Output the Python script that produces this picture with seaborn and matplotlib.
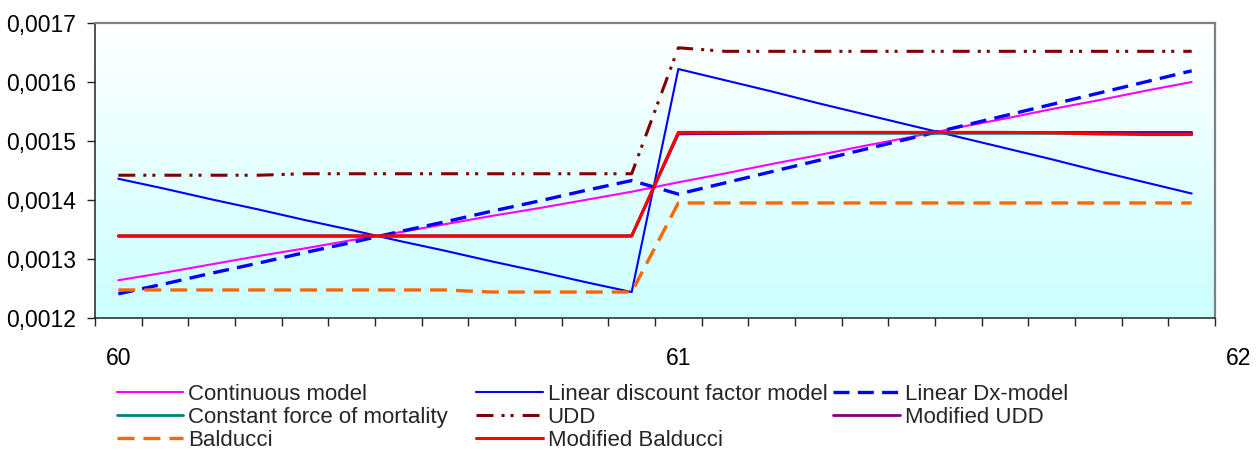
import numpy as np
import matplotlib
matplotlib.use("Agg")
import matplotlib.pyplot as plt
import seaborn as sns
from matplotlib.ticker import FixedLocator, FuncFormatter

# ---------------- data ----------------
months = list(range(24))            # month index within ages 60-61
series_names = [
    "Continuous model", "Linear discount factor model", "Linear Dx-model",
    "Constant force of mortality", "UDD", "Modified UDD",
    "Balducci", "Modified Balducci",
]
continuous = [0.001264, 0.001277, 0.001291, 0.001305, 0.001318, 0.001332,
              0.001345, 0.001359, 0.001373, 0.001386, 0.001400, 0.001414,
              0.001430, 0.001445, 0.001461, 0.001476, 0.001492, 0.001507,
              0.001523, 0.001538, 0.001554, 0.001569, 0.001585, 0.001600]
lin_discount = [0.001436, 0.001419, 0.001401, 0.001384, 0.001366, 0.001349,
                0.001331, 0.001314, 0.001296, 0.001279, 0.001261, 0.001244,
                0.001622, 0.001603, 0.001584, 0.001564, 0.001545, 0.001526,
                0.001507, 0.001488, 0.001469, 0.001449, 0.001430, 0.001411]
lin_dx = [0.001241, 0.001258, 0.001276, 0.001293, 0.001311, 0.001328,
          0.001346, 0.001363, 0.001381, 0.001398, 0.001416, 0.001433,
          0.001410, 0.001429, 0.001448, 0.001467, 0.001486, 0.001505,
          0.001524, 0.001543, 0.001562, 0.001581, 0.001600, 0.001619]
const_force = [0.001339] * 12 + [0.001513] * 12
udd = [0.001442, 0.001442, 0.001442, 0.001442, 0.0014445, 0.0014445,
       0.0014445, 0.0014445, 0.0014445, 0.0014445, 0.0014445, 0.0014445,
       0.001658, 0.001652, 0.001652, 0.001652, 0.001652, 0.001652,
       0.001652, 0.001652, 0.001652, 0.001652, 0.001652, 0.001652]
mod_udd = [0.001339] * 12 + [0.001512, 0.0015127, 0.0015135, 0.0015143,
                             0.0015146, 0.0015146, 0.0015146, 0.0015146,
                             0.0015146, 0.0015146, 0.0015146, 0.0015146]
balducci = [0.0012475] * 8 + [0.001244] * 4 + [0.001395] * 12
mod_balducci = [0.001339] * 12 + [0.0015146, 0.0015146, 0.0015146, 0.0015146,
                                  0.0015146, 0.0015146, 0.0015146, 0.0015146,
                                  0.0015140, 0.001512, 0.001511, 0.001511]
ages = [60 + m / 12 for m in months]

yticks = [0.0012, 0.0013, 0.0014, 0.0015, 0.0016, 0.0017]
xtick_pos = [60, 61, 62]
xtick_labels = ["60", "61", "62"]

# ---------------- styling ----------------
sns.set_theme(style="white")
plt.rcParams["font.family"] = ["Liberation Sans", "DejaVu Sans"]
plt.rcParams["lines.scale_dashes"] = False

dash_dx = (0, (11.5, 6.0))
dash_bal = (0, (12.2, 6.5))
dash_udd = (0, (12.2, 5.8, 2.2, 4.3, 2.2, 6.5))

styles = [
    dict(color="#FF00FF", lw=1.5, ls="-"),
    dict(color="#0000FF", lw=1.5, ls="-"),
    dict(color="#0000FF", lw=2.4, ls=dash_dx),
    dict(color="#008080", lw=2.0, ls="-"),
    dict(color="#800000", lw=2.2, ls=dash_udd),
    dict(color="#800080", lw=2.0, ls="-"),
    dict(color="#FF6600", lw=2.4, ls=dash_bal),
    dict(color="#FF0000", lw=2.2, ls="-"),
]
values = [continuous, lin_discount, lin_dx, const_force, udd, mod_udd,
          balducci, mod_balducci]

W, H = 1260, 450
fig = plt.figure(figsize=(W / 100, H / 100), dpi=100)
fig.patch.set_facecolor("white")
ax = fig.add_axes([95 / W, 132 / H, 1120 / W, 295 / H])

# gradient background: white top -> light cyan bottom
rgb = np.ones((256, 1, 3))
rgb[:, 0, 0] = np.linspace(1.0, 0.80, 256)
ax.imshow(rgb, extent=[0, 1, 0, 1], transform=ax.transAxes, aspect="auto",
          zorder=0, interpolation="bilinear")

lines = []
for name, vals, st in zip(series_names, values, styles):
    sns.lineplot(x=ages, y=vals, ax=ax, color=st["color"], linewidth=st["lw"],
                 linestyle=st["ls"], label=name, legend=False, zorder=2)
    lines.append(ax.lines[-1])

xmin = 60 - 0.5 / 12
xmax = 60 + 23.5 / 12
ax.set_xlim(xmin, xmax)
ax.set_ylim(0.0012, 0.0017)
ax.set_xlabel("")
ax.set_ylabel("")

# y axis
ax.yaxis.set_major_locator(FixedLocator(yticks))
ax.yaxis.set_major_formatter(FuncFormatter(lambda v, _: f"{v:.4f}".replace(".", ",")))
ax.tick_params(axis="y", which="major", left=True, length=5.5, width=1.0,
               color="#222222", pad=8.4, labelsize=16.5, labelcolor="black",
               direction="out")

# x axis: category boundaries as minor ticks, labels at whole ages
in_range = [(p, l) for p, l in zip(xtick_pos, xtick_labels) if xmin <= p <= xmax]
ax.xaxis.set_major_locator(FixedLocator([p for p, _ in in_range]))
ax.set_xticklabels([l for _, l in in_range])
ax.xaxis.set_minor_locator(FixedLocator([xmin + j / 12 for j in range(25)]))
ax.tick_params(axis="x", which="major", bottom=True, length=0, pad=21.0,
               labelsize=16.5, labelcolor="black")
ax.tick_params(axis="x", which="minor", bottom=True, length=5.8, width=1.0,
               color="#222222", direction="out")
for p, l in zip(xtick_pos, xtick_labels):
    if not (xmin <= p <= xmax):
        ax.annotate(l, xy=(p, 0), xycoords=("data", "axes fraction"),
                    xytext=(0, -21.0), textcoords="offset points",
                    ha="center", va="top", fontsize=16.5, color="black",
                    annotation_clip=False)

for side in ["top", "right"]:
    ax.spines[side].set_color("#808080")
    ax.spines[side].set_linewidth(1.6)
for side in ["left", "bottom"]:
    ax.spines[side].set_color("#222222")
    ax.spines[side].set_linewidth(1.1)
ax.grid(False)

# legend: three fixed-width columns, filled row by row
col_items = [[0, 3, 6], [1, 4, 7], [2, 5]]
col_x = [116.7, 476, 833]
for items, x in zip(col_items, col_x):
    fig.legend(handles=[lines[i] for i in items],
               labels=[series_names[i] for i in items],
               loc="upper left", bbox_to_anchor=(x / W, 1 - 384 / H),
               bbox_transform=fig.transFigure, frameon=False, fontsize=16,
               handlelength=3.0, handletextpad=0.22, borderpad=0,
               borderaxespad=0, labelspacing=0.08)

fig.savefig("out.png", dpi=100)
